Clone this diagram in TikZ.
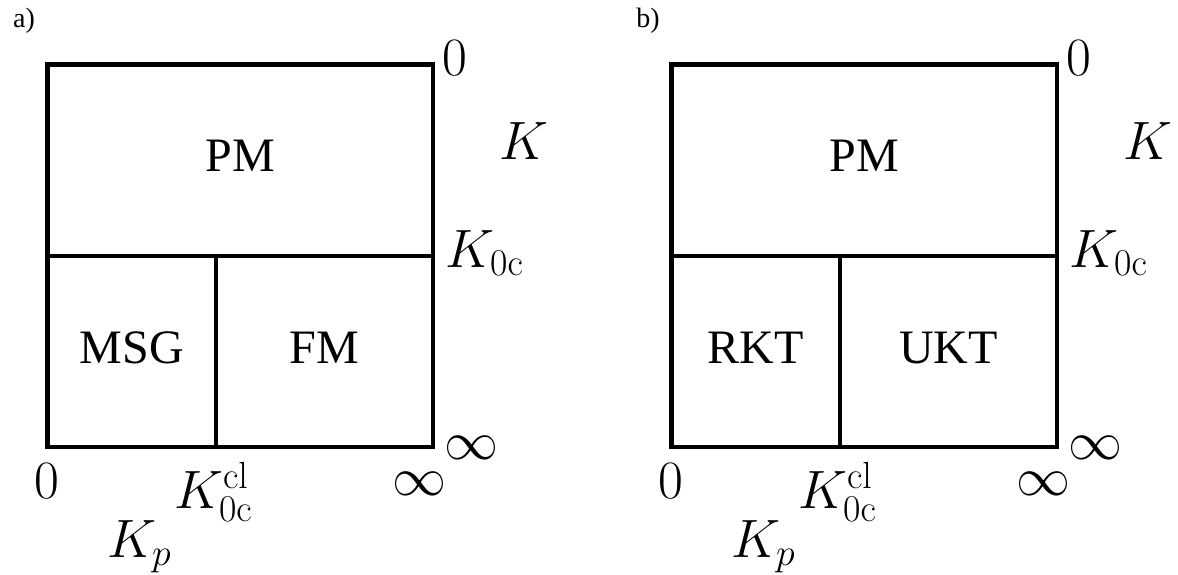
\documentclass[tikz,border=0pt]{standalone}
\usepackage{fix-cm}
\usepackage[no-math]{fontspec}
\setmainfont{Liberation Serif}
\usetikzlibrary{positioning}

\tikzset{
    phase/.style={font=\fontsize{48}{56}\selectfont, inner sep=0pt},
    axislbl/.style={font=\fontsize{54}{62}\selectfont, inner sep=0pt},
    paneltag/.style={font=\fontsize{28}{32}\selectfont, inner sep=0pt},
    diagline/.style={line width=4.5pt, line cap=rect}
}

\begin{document}
\begin{tikzpicture}[x=1pt, y=-1pt]
\useasboundingbox (0,0) rectangle (1178,575);

\foreach \dx/\tag/\lreg/\rreg in {0/a/MSG/FM, 624/b/RKT/UKT} {
\begin{scope}[xshift=\dx pt]
    % frame and phase boundaries
    \coordinate (nw\tag) at (47.5,64.5);
    \coordinate (se\tag) at (433,447);
    \coordinate (wk\tag) at (47.5,256);
    \coordinate (ek\tag) at (433,256);
    \coordinate (kcl\tag) at (216,256);
    \coordinate (kclb\tag) at (216,447);
    \draw[diagline] (nw\tag) rectangle (se\tag);
    \draw[diagline] (wk\tag) -- (ek\tag);
    \draw[diagline] (kcl\tag) -- (kclb\tag);

    \node[paneltag] (tag\tag) at (24,21) {\tag)};

    % phases
    \node[phase] (pm\tag) at (240.25,156) {PM};
    \node[phase] (low\tag) at (131.75,348) {\lreg};
    \node[phase] (high\tag) at (324.5,348) {\rreg};

    % K axis
    \node[axislbl] (kzero\tag) at (455,58.5) {$0$};
    \node[axislbl] (kname\tag) at (524,141) {$K$};
    \node[axislbl, anchor=base west] (kc\tag) at (445,267) {$K_{\mathrm{0c}}$};
    \node[axislbl] (kinf\tag) at (471,447.5) {$\infty$};

    % Kp axis
    \node[axislbl] (pzero\tag) at (47,481) {$0$};
    \node[axislbl, anchor=base west] (pc\tag) at (174,508) {$K_{\mathrm{0c}}^{\mathrm{cl}}$};
    \node[axislbl] (pinf\tag) at (419,483.5) {$\infty$};
    \node[axislbl, anchor=base west] (pname\tag) at (107,557) {$K_p$};
\end{scope}
}
\end{tikzpicture}
\end{document}
